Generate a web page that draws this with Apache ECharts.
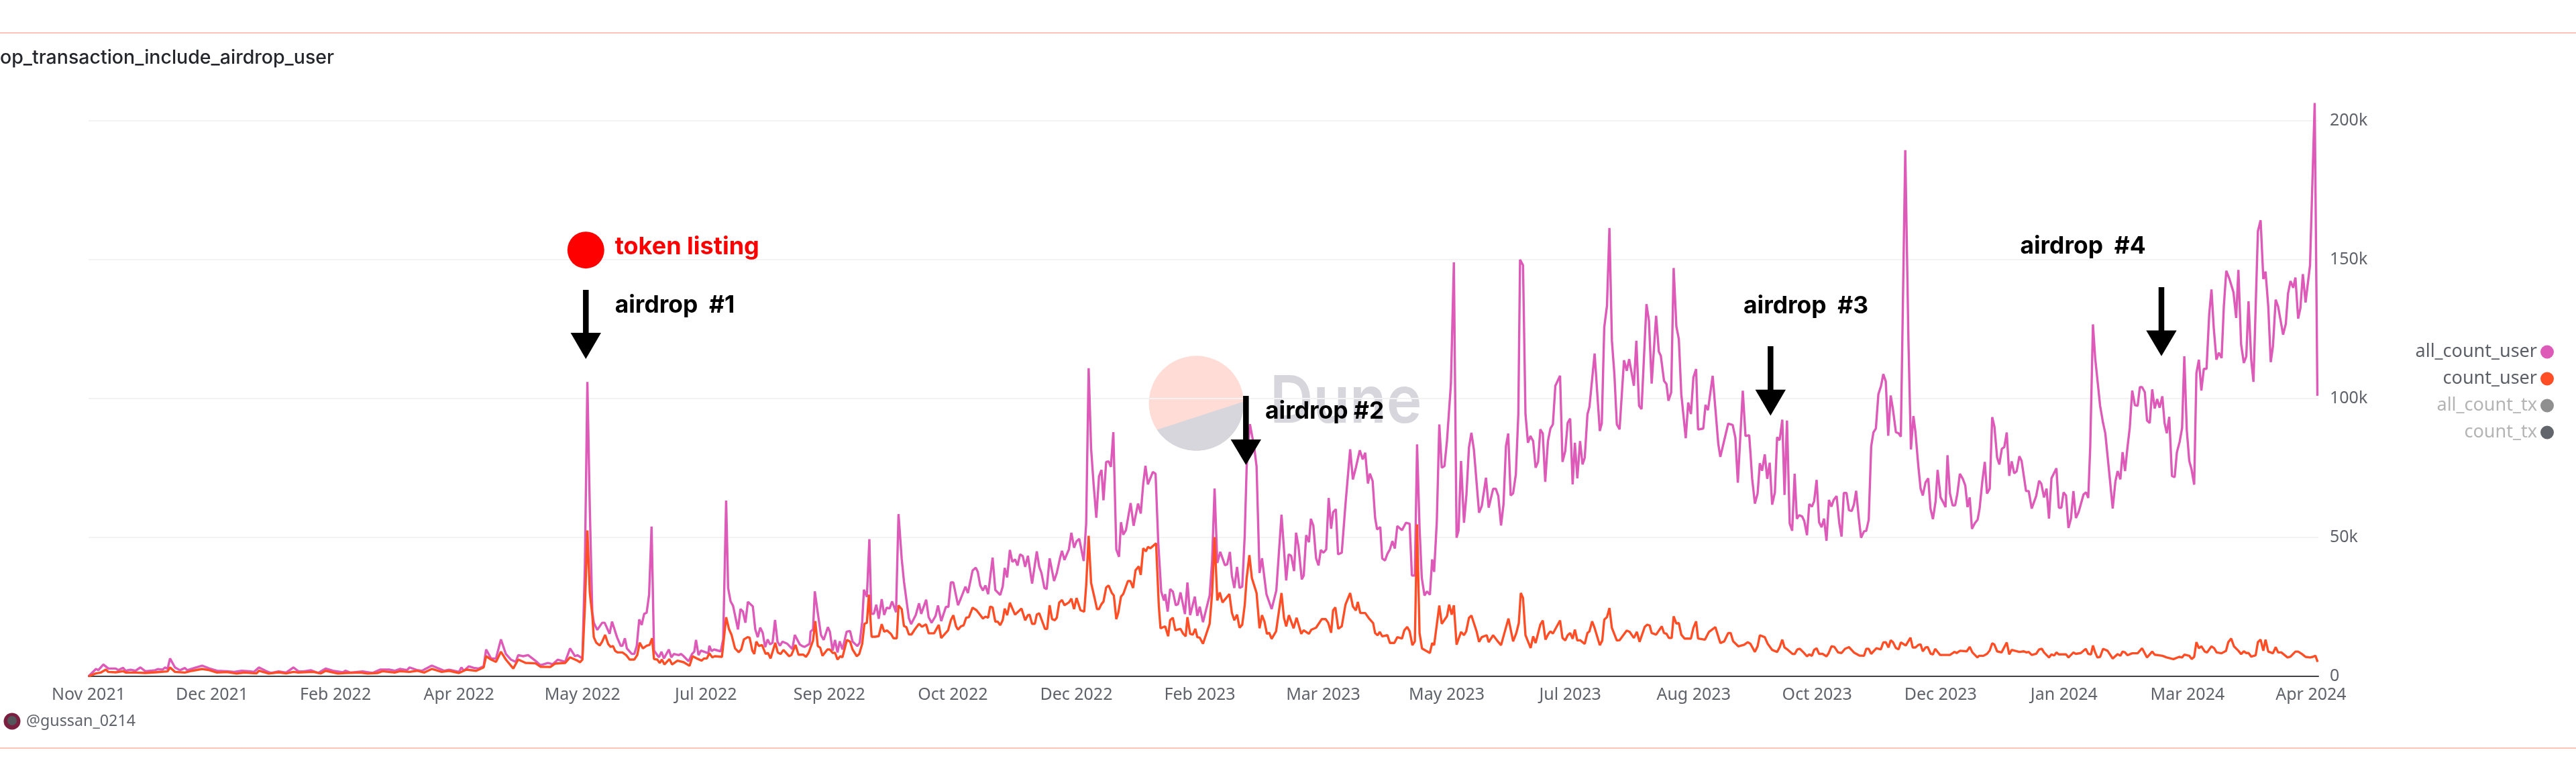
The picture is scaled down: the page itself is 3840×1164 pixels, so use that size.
<!DOCTYPE html>
<html>
<head>
<meta charset="utf-8">
<title>op_transaction_include_airdrop_user</title>
<script src="https://cdn.jsdelivr.net/npm/echarts@6/dist/echarts.min.js"></script>
<style>
html, body { margin: 0; padding: 0; background: #fff; }
#chart { width: 3840px; height: 1164px; }
</style>
</head>
<body>
<div id="chart"></div>
<script>
// x labels sit every 50 days from 2021-11-11, points are [day offset, users in thousands]
var tickLabels = ['Nov 2021', 'Dec 2021', 'Feb 2022', 'Apr 2022', 'May 2022', 'Jul 2022', 'Sep 2022', 'Oct 2022', 'Dec 2022', 'Feb 2023',
    'Mar 2023', 'May 2023', 'Jul 2023', 'Aug 2023', 'Oct 2023', 'Dec 2023', 'Jan 2024', 'Mar 2024', 'Apr 2024'];
var legendNames = ['all_count_user', 'count_user', 'all_count_tx', 'count_tx'];

var allCountUser = [
    [0,0],[3,2.66],[4,2.25],[6,4.27],[8,2.82],[11,2.82],[12,2.25],[14,3.06],[15,2],[17,2.4],[19,2],[21,3.2],[23,1.85],[27,2.2],[28,2.6],[30,2.4],[31,3.2],[32,2.66],[33,6.44],[35,3.2],[37,2.2],[39,3],[40,2.2],[43,3.06],[46,3.86],[49,2.8],[52,2],[56,1.85],[59,1.6],[62,2],[65,1.85],[67,1.6],[69,3.2],[72,1.85],[74,1.2],[77,1.77],[80,1.37],[83,3.2],[85,1.77],[87,1.77],[90,2.2],[93,1.2],[96,2.8],[99,2],[103,1.45],[104,2],[106,1.37],[111,1.77],[115,1.2],[118,2.4],[122,2.4],[124,2],[126,2.66],[129,2.25],[130,3.2],[133,2.25],[135,2],[139,3.86],[143,2.4],[144,2],[146,2.4],[148,2],[150,1.6],[151,3.2],[152,2],[154,3.6],[156,3.06],[158,2.8],[160,3.6],[161,9.66],[163,6.44],[165,6.44],[167,13.3],[169,8.05],[171,6.04],[173,5.2],[174,7.65],[176,7.25],[178,7.65],[181,5.6],[183,4],[186,4.8],[188,4.4],[190,6],[193,5.2],[195,10.06],[197,7.25],
    [198,7.6],[200,6.44],[201,40],[202,106],[203,60],[204,23],[204.6,19.3],[206,16.7],[208,19.3],[209,19.3],[211,15.3],[212,19.7],[214,14.1],[215.5,11],[216.2,11],[217.2,13.7],[218,10.06],[220,8.05],[221,8.05],[222,10.9],[223,20.5],[224,18.5],[225,22.5],[226,22.9],[227,29.4],[228,53.9],[229,9.26],[231,6.84],[232,8.86],[233,6.44],[235,9.66],[236,6.84],[237,8.05],[239,7.65],[240,8.05],[241,7.25],[243,5.4],[244.4,8.05],[245.3,8.86],[246,13.1],[247,7.65],[248,9.26],[251,8.3],[251.4,11],[252.3,9.1],[253.3,9.66],[256,9],[257,13.3],[258.2,63.3],[259,31.8],[260,27],[261,25.4],[263,16.9],[264,24.2],[265,23.3],[266,19.3],[267,26.8],[269,25.2],[270,16.9],[271,14.1],[272,17.5],[273,15.7],[274,10.5],[275,13.3],[276,11.5],[277,12.1],[278,20.3],[279,12.5],[280,11],[281,12.5],[283,11.7],[285,9.8],[286,14.9],[288,11.5],[289,10.9],[290,10.6],[292,11.7],[292.4,16.1],[293.4,16.9],[294.1,30.6],[295.3,22.9],[296.6,14.9],[297.7,13.1],[298.2,12.9],[299.4,17.7],[300.2,16.1],[301.3,9.26],[302.3,13.1],[303.3,8.6],[304.2,12.6],[305.3,9.66],[307,16.1],[308.4,16.3],[309.4,12.5],[311.3,10.9],[312.3,12.1],[313.3,19.7],[314,31.2],[315.2,28.6],[316.2,49.4],[317,22.5],[318,22.5],[319,25.8],[320,20.7],[321.2,27.8],[322.2,22.1],[323.2,24.7],[324.4,24.4],[325.4,27],[327,23.1],[328,58.4],[329.3,42.3],[330.2,34.2],[332.2,20.9],[333.1,18.8],[335,22.1],[336.3,26.3],[337.2,22.5],[339.2,27.6],[340.2,21.3],[341.4,19.3],[343,21.7],[344,25.5],[345.3,19.9],[347.2,25],[348.2,25],
    [349.2,33.8],[350.2,33.8],[352.1,25.6],[353.3,28.2],[355.1,32.3],[356.1,30],[358,38.1],[359.3,39.1],[360.1,37.6],[361.1,32.7],[362.2,30.9],[363.2,32.7],[364.3,29.6],[366.1,42.7],[367.2,31.1],[369.2,29.3],[370.2,32.3],[371,39],[372,35.6],[373.1,45.5],[374.1,41.2],[375.2,42.1],[376.2,39.9],[377.2,43.9],[378.3,43.3],[379.3,39.4],[380.4,43.4],[382.1,33.4],[384,45],[385,39.4],[385.9,37.2],[387.1,31.8],[388,31.4],[389.2,42.5],[391,34.3],[392.1,37.2],[393.4,42.5],[394.2,45.2],[395.2,41.9],[397,45.7],[398,51.7],[399.1,46.3],[400.1,48.6],[401.2,49.5],[403,41.5],[404,55],[405,110.9],[406,81.9],[407,69.3],[408.1,57.1],[409.2,72],[410.2,74.3],[411,63.4],[412.1,77.2],[413.1,77.4],[414,75.4],[415,87.9],[416.2,45.7],[417.3,43],[418.1,55.5],[419,51],[420.1,52.6],[422,62.4],[423.2,54.2],[425,62.2],[426.1,58.6],[427.1,69.3],[428,75.8],[429,69.1],[431,73.6],[432.1,72.9],[433.2,47.9],[434.4,30.5],[435.5,27.3],[436,29.6],[437,23.3],[438,31.4],[439.1,30.5],[440.3,25.6],[441.2,26],[442.2,30.2],[444,22.4],[445,33.8],[446.1,22],[448,28.7],[449,21.8],[450,25.1],[451.3,19.5],[454,29.1],[455,41.6],[456,67.6],[457.1,40.8],[458.3,44.8],[460.2,40],[461.1,40.3],[462.2,44.8],[463,36.3],[464,31.8],[465.1,39.4],[466.1,31.8],[467.2,32.3],[468.2,50.6],[469,75.6],[470.3,90.8],[472,82.8],[473,75.6],[474.2,37.2],[475.2,42.5],[477,29.6],[479.1,24.2],[481,30.9],[483.1,58.2],[485,34.5],[486,43.9],[487,43.4],[488.2,37.9],[489,51.7],[490,46.6],[491.3,34.9],[492.1,36.3],[493.1,50.8],[494.2,48.3],[495,56.7],[496,54.2],[497.1,42.5],[498.1,39.9],[499,45.5],[500.1,44.5],[501.2,45.7],[502.2,64.2],[503.2,53.1],[504,59.1],[505.1,60.2],[506,43.9],[507.5,44.5],
    [509,61.9],[510.9,81.7],[512,70.9],[513.2,75.1],[514.8,81.4],[516,78.1],[517,80.5],[518.1,69.4],[518.9,73],[520,70.3],[521,57.1],[521.8,52.9],[523.1,53.7],[523.9,42.4],[525,41.7],[526,44.1],[527,45.7],[528,48.7],[529,46],[530,54.1],[531.9,52.6],[533.5,55.3],[535,54.9],[535.9,36.3],[537.1,36.3],[538,83.5],[539,53.5],[539.9,35.5],[541,29.1],[542,30.6],[543.2,29.4],[544.1,42.1],[544.9,37.6],[546,55.9],[547,90.7],[548,75.1],[549.1,75.7],[550.1,84.7],[551.7,105.2],[552.9,149],[554,49.9],[554.8,52.5],[555.8,77.5],[557,55.3],[558,65.5],[559,82.3],[560,87.7],[561,81.7],[563.1,58.9],[564.2,61.3],[565.9,71.5],[567,60.7],[568.8,67.5],[569.9,67.5],[570.9,64.9],[572,54.3],[573,61.9],[574,82.9],[574.9,87.4],[575.9,65.1],[576.9,65.9],[578,72.7],[579,94.4],[579.7,150],[580.9,148],[581.9,94.4],[582.9,84.1],[583.9,86.5],[585,84.7],[586,75.1],[587,77.2],[587.9,88.9],[588.9,87.4],[589.9,70],[591,84.7],[592,89.2],[593,90.7],[594,104.6],[595.9,108.2],[596.9,77.2],[598,81.1],[599,91.3],[600,92.8],[601,69.1],[601.9,84.1],[602.9,71.3],[604,84.7],[605,76.3],[605.9,78.7],[607,94.4],[607.8,97],[609.9,116.2],[612,88.3],[612.8,91.1],[613.8,125.6],[614.9,133.4],[615.9,161.4],[616.9,120.8],[617.9,108.8],[618.9,90.7],[620,88.9],[621.8,113.8],[622.9,110],[623.9,114.2],[625.8,104.6],[626.8,120.8],[627.9,97.4],[628.9,96.2],[630.9,134],[631.9,128],[633,105.4],[634.8,129.8],[635.9,116.9],[636.7,115.4],[638,106.4],[639,105.2],[639.8,99.2],[640.9,102.2],[641.9,147],[643,126],[644,121.4],[645,101.6],[646.8,85.7],[647.8,98.6],[648.9,94.4],[649.9,107.6],[651,110.6],[651.8,88.9],[653.9,89.2],[654.8,97.7],[655.8,95.8],[657.7,108.2],[660,83.5],[660.8,79],[664,91],[665.8,90.5],[666.9,85.9],[667.9,69.7],[669.9,102.8],
    [671,86.5],[672.5,86.8],[673,80.5],[673.7,71.1],[674.8,62.2],[675.9,65.8],[676.8,76.7],[677.7,74],[678.8,79.9],[679.8,71.1],[680.8,76.9],[681.8,61.8],[682.9,66.2],[683.8,86.1],[684.8,85],[685.9,92.4],[686.8,65.3],[687.8,92.1],[688.9,55],[689.9,52.4],[690.9,72.9],[691.8,56.7],[692.7,58],[693.9,57.6],[694.8,55.9],[695.9,50.8],[696.8,62],[697.9,61.1],[698.8,63.1],[699.8,70.7],[700.8,55.5],[701.8,53.7],[702.8,56.8],[703.8,48.8],[704.8,63.5],[705.8,61.1],[706.7,63.5],[707.9,64.9],[709,55],[709.9,50.3],[710.8,66],[711.9,66],[712.9,59.8],[714,59.5],[714.9,61.8],[715.8,66.8],[716.9,56.8],[717.8,49.9],[719,52.2],[719.9,52.4],[720.9,56.4],[721.9,82.8],[722.8,87.8],[723.8,89.2],[724.8,101.5],[725.9,104.6],[726.8,108.8],[727.8,106.2],[728.8,86.6],[729.8,101.1],[730.7,96.2],[731.9,87.9],[733,87.5],[733.9,86.3],[735.7,189.4],[737,120],[738,81.7],[739,93.7],[739.8,88.1],[741,75.6],[741.9,67.6],[742.8,65.1],[743.9,69.8],[745,71.3],[745.9,60.4],[746.9,56.6],[748,63.1],[748.8,74.3],[750,64.4],[751.1,62.6],[752,60.9],[752.8,79.6],[753.8,65.8],[754.9,61.5],[755.9,61.6],[756.8,65.8],[757.8,72.9],[759,71.1],[760,68.7],[760.9,60.9],[761.8,64.4],[762.7,53.1],[763.8,55],[765,56.4],[765.8,60.4],[766.9,70.2],[767.9,77.2],[768.8,65.8],[769.9,67.6],[770.9,93.3],[771.8,89.9],[772.9,78.7],[773.8,76.3],[774.8,81.9],[775.8,82.5],[776.8,87.8],[777.8,72.2],[778.8,77.4],[779.8,73.1],[780.8,73.8],[781.9,79.2],[782.8,77.6],[784.6,66.7],[785.7,66.7],[786.9,60.4],[788.7,64.9],[789.9,70.4],[790.8,69.3],[791.9,64.4],[792.9,67.6],[793.9,56.8],[794.9,71.3],[796.9,74.9],[797.9,60.7],[798.9,60.7],[799.8,66.2],[800.8,65.1],[801.8,53.4],[802.8,56.8],[803.8,66.7],[804.8,57],[805.9,59.1],[807.9,65.5],[808.9,66.2],[809.8,64.2],[810.6,82.6],
    [811.7,126.7],[812.6,114.6],[814.6,97.4],[815.8,91.2],[816.7,87.5],[818.5,71.5],[819.7,60.4],[820.8,70.2],[821.7,73.9],[822.8,70.9],[823.7,80.7],[824.7,73.9],[825.7,82.6],[826.6,89.4],[827.6,102.9],[828.7,97.6],[829.8,97.4],[830.7,104.1],[831.6,104.1],[832.7,102.3],[833.6,92.1],[834.7,91.2],[835.7,103.3],[836.7,96.4],[837.7,99.8],[838.7,96.7],[839.8,100.8],[840.7,91.2],[841.6,87.5],[842.6,93.4],[843.7,72.1],[844.8,71.7],[845.7,80.7],[846.8,84.4],[847.8,89.4],[848.7,115.2],[849.7,88.7],[850.7,77.6],[851.6,74.6],[852.7,69],[853.6,109.1],[854.6,114],[855.6,102.9],[856.6,110.7],[857.7,110.7],[858.8,130.6],[859.7,139.3],[860.6,125.7],[861.7,114],[862.7,116.5],[863.8,114.6],[864.7,133.1],[865.7,146],[867,143],[868.6,138.3],[869.7,129],[870.6,146.3],[871.7,119.5],[872.8,112.8],[873.8,115.2],[874.7,135],[875.8,114],[876.7,106],[878.5,160.2],[879.6,164.2],[880.7,143],[881.6,145.7],[882.7,133.1],[883.7,113.1],[884.6,118.9],[885.7,135.6],[886.7,133.1],[888.7,123],[889.8,126.9],[890.7,137.8],[891.7,142.3],[892.8,139.9],[893.7,143.6],[894.8,128.8],[895.7,132.5],[896.7,144.8],[897.8,134.6],[899.6,147.9],[901.5,206.4],[902.6,101]
];

var countUser = [
    [0,0],[3,1.05],[5,1.37],[7,2.4],[8,1.6],[11,1.45],[14,1.85],[15,1.37],[19,1.37],[23,1.2],[27,1.45],[32,1.77],[33,3.2],[35,1.6],[39,1.37],[42,2],[46,2.66],[49,2.2],[52,1.37],[56,1.53],[60,1],[63,1.37],[68,1.05],[69,2],[73,1],[77,1.45],[80,1.05],[83,1.6],[85,1.37],[91,1.6],[94,1.05],[96,2],[101,1],[104,1.2],[110,1.37],[113,1],[117,1.2],[119,1.85],[124,1.37],[126,1.85],[130,1.6],[133,2],[136,1.37],[139,2.66],[143,1.6],[146,2],[150,1.2],[153,2.4],[157,2],[160,3.2],[161,7.25],[163,6.04],[165,5.2],[167,8.86],[169,6.04],[172,2.8],[174,6.04],[177,4.83],[181,4.67],[183,3.46],[187,3.38],[189,4.6],[193,4.83],[195,6.84],[197,6.04],
    [198,5.64],[199,5.07],[200,6.04],[201,25],[202,52.5],[203,30],[204,22.1],[204.6,14.1],[205.6,12.1],[207,11.1],[208,12.5],[209.2,14.9],[210.4,11.7],[211.4,10.6],[212.4,10.9],[213.3,9.1],[214.3,8.6],[216.2,8.6],[217.7,7.65],[219.1,6.04],[221,6.04],[222.2,7.65],[223.2,12.1],[224.5,10.06],[226,11],[227.2,11.3],[228.2,13.7],[229,6.2],[230.3,6.04],[231.3,4.83],[232.2,6.04],[233.2,4.27],[235.2,6.2],[236.3,4.27],[238.5,5.64],[241,5.07],[243.4,3.78],[244.6,7.25],[246.3,6.44],[248.3,5.64],[249.2,6.44],[250.4,6.44],[251.4,8.3],[252.6,6.84],[253.6,7.25],[256.5,7],[258.2,21.3],[259.4,16.9],[260.4,14.9],[261.8,10.06],[263.3,8.7],[264.3,9.66],[265.4,13.3],[266.9,14.1],[267.7,13.9],[268.8,9.26],[269.6,8.05],[270.4,12.5],[271.5,10.9],[272.7,11.3],[274.2,8.05],[275.1,8.45],[276.2,6.44],[278.1,12.1],[279.1,8.6],[280.3,8.05],[281.4,9.5],[283.7,7.25],[284.6,7.65],[286.3,11.3],[287.5,7.8],[289.5,7.8],[290.5,7],[291.6,8.45],[293.4,12.9],[294.3,19.9],[295.3,10.9],[296.3,10.3],[297.2,7.4],[299.2,9.66],[300.2,9.66],[301.3,8.45],[302.3,8.45],[303.3,6.04],[304.5,7.25],[305.3,6.84],[307.1,13.1],[308.4,12.5],[309.4,9.66],[311.1,7.25],[312.1,8.05],[313.3,11.7],[314.2,18.9],[315.2,19.3],[316,29.4],[317.1,14.25],[318.6,14.25],[320,14.5],[321.2,18.8],[322.2,16.1],[323.4,16.5],[324.9,15.3],[326,13.7],[327.3,13.7],[328,25.5],[329.3,24.2],[330.2,18.1],[331.2,17.7],[332.2,15.1],[333.3,15.1],[334.6,16.9],[336.3,18.9],[337.5,17.9],[339.2,18.7],[340.2,15.5],[342.4,15.5],[344.3,18.5],[345.3,13.8],[348.1,16.6],
    [349.2,20.2],[350.2,22],[351.3,18],[352.1,16.8],[353.3,18],[354.4,18.4],[355.4,21.1],[356.5,21.3],[358,24.7],[359.6,23.8],[362.2,20.8],[363.2,21.5],[364.3,21.1],[365.1,25.1],[366.1,24.8],[367.2,19.7],[368.2,19.7],[369.2,18.4],[370.2,20.2],[371,24.4],[372,22],[373.1,26.5],[375.2,22.2],[377.8,24.4],[379.3,20.2],[380.4,22],[381.1,22.2],[382.1,18.9],[383.2,18.9],[384,22.2],[385,22.7],[387.3,17.1],[388.2,17.1],[389.2,25.6],[390.2,20.6],[391.3,20.2],[392.1,21.1],[393.1,26.6],[394.2,27.5],[395.2,25.6],[397,26.6],[398,28],[399.1,24.2],[400.1,28.2],[401.7,23.8],[403.2,23.3],[404,32.7],[405,50.6],[406,33.6],[407.4,28.2],[408.4,24.2],[409.2,24.2],[410.2,26],[411,26.9],[412.1,32],[413.1,32.7],[414.4,30],[415.2,29.1],[416.2,20.6],[417,22.9],[418.1,28.7],[419,29.6],[420.9,34.3],[421.9,34.3],[423,31.8],[424,38.2],[425.3,39.6],[426.1,36.5],[427.1,46.1],[428.2,45],[429,46.6],[430,46.1],[432.3,47.9],[433.4,25.6],[434.1,17.3],[436,18],[437.2,14.4],[438,20.2],[439.1,21.1],[440.1,16.6],[442.2,17.1],[443.3,15.3],[444.3,14.4],[445,21.3],[446.1,15.3],[447.2,15],[448.2,17.1],[449,14.1],[450,13.9],[451.3,11.7],[454,18.9],[455,30],[456,50.1],[457.1,27.3],[458.1,30.2],[459.2,26.6],[462,29.6],[463,22.9],[464,20.2],[465.1,22.2],[466.1,17.5],[467.2,18.6],[468.2,25.6],[469,35.4],[470.1,43.6],[471.1,35.4],[473,30],[474.2,17.3],[475.2,22],[476.2,19.7],[477.2,15.3],[478.1,15.7],[479.1,13.5],[480.9,16.2],[483.1,30],[484.1,21.1],[485,18],[486.1,22],[488,17.3],[489.2,21.1],[491.1,15.3],[492.1,16.6],[494.2,15.3],[495.2,16.8],[497.1,17.5],[499.4,20.6],[501,20.6],[502,19.3],[503.2,15.7],[504,23.8],[504.9,24.8],[506.1,17.1],[507.5,18],
    [509,25.8],[510.9,30],[512,25.2],[513.2,23.7],[514,26.8],[515,22.8],[517,22.8],[518.4,21],[520.2,19.2],[521,15.6],[522,14.8],[522.9,16],[523.9,14.4],[526,14.8],[527,12],[528.8,12],[530,14.1],[531.9,13.6],[532.8,16.5],[534,17.8],[535,16.2],[536.1,11.2],[537.1,12.6],[538,54.7],[539,15.6],[540,10],[543.2,8.4],[544.1,12],[544.9,11.2],[547,25.5],[548,18.9],[550.1,21.6],[551,25.8],[552,22.2],[552.9,25.6],[554,11.4],[555.8,16],[557,14.8],[557.9,16.2],[559,21],[560,21.9],[562.1,16.2],[563.1,12.4],[564.2,14.1],[566.2,14.8],[567,12.3],[568.8,14.8],[570.4,12.9],[572,11.2],[575,20.8],[576.9,12.6],[578.2,15.6],[579.2,19.2],[580,30],[580.9,28.2],[581.9,14.8],[584,10.2],[585,14.4],[586,12],[587.9,18.6],[588.9,20.1],[590,13.2],[591.2,15.3],[592,16.2],[593,15.4],[595.9,20.1],[596.9,13.8],[598,12.9],[599,14.8],[600,15.6],[601,13.5],[601.9,16.8],[602.9,12.9],[604,13],[605.9,11.7],[607,15.6],[607.8,16.2],[608.9,19.8],[609.9,17.4],[612,11.2],[613,12.9],[613.8,20.4],[614.9,21.3],[615.9,24.6],[616.9,17.4],[618.9,12.9],[620,13],[622.9,16.5],[624.1,16],[625.8,13.8],[627,16],[628.1,12.4],[630.2,17.8],[631.2,18.6],[632.2,18.3],[633,15.6],[634.8,15],[636.4,17.1],[637.1,18],[638,15.6],[639,15.3],[640,13.8],[641.1,13.8],[641.9,21.6],[643,19],[644,19.2],[645,15],[646.3,13.6],[648.9,13.6],[649.9,17.4],[651,19.8],[651.8,13.6],[654.6,13.2],[656.2,16],[658.8,17.7],[660.8,12],[662.4,12.6],[664,15.6],[665,15.6],[666,12.6],[668.1,10.8],[670.5,11.4],
    [671.9,12.3],[673,11.7],[674.8,8.8],[675.9,10.8],[676.8,14.8],[678.8,14.1],[680,11.7],[681.8,9.5],[683.8,8.8],[684.8,10.4],[685.9,13.2],[686.8,10.4],[688.2,9.5],[690,8.1],[690.9,8],[692,9.7],[693,9.9],[694.5,8.6],[695.9,7.2],[696.8,7.9],[697.9,7.4],[698.8,9.5],[699.8,10.1],[700.8,8.1],[702.2,8.1],[703.8,7.2],[704.7,8.4],[705.8,10.8],[707,10.6],[708.5,8.6],[709.9,8.4],[711.3,9.9],[712.9,10.5],[714.9,8.6],[717.1,7.5],[719,7.4],[719.9,9.9],[720.9,9.9],[721.9,8.1],[724,10.1],[725.8,9.7],[726.8,12.2],[727.8,12.3],[728.9,10.4],[729.8,13],[730.7,12.3],[731.9,10.2],[733,9.7],[733.9,12.2],[735.9,11.1],[737.8,13.9],[738.7,10.4],[739.8,10.4],[741,11.3],[741.9,11.5],[742.8,9],[743.9,10.4],[744.8,10.5],[746,8.1],[746.9,7.9],[747.8,9.9],[749.8,7.7],[752,7.7],[753.8,7.7],[755.6,8.8],[756.5,8.4],[757.9,9.2],[760.6,9],[761.8,10.6],[762.9,8.6],[764.9,6.8],[765.6,7.4],[767.4,7.4],[768.8,8.1],[769.9,9.3],[770.9,11.9],[771.8,11.4],[772.9,9],[774.7,8.6],[776.8,12.2],[777.8,7.9],[778.8,9.5],[781.9,8.8],[783.7,9],[784.8,8.6],[785.7,8.8],[786.9,7.7],[788.7,8.1],[789.9,9.7],[791,9.9],[791.9,8.6],[793.9,6.8],[794.9,7.9],[796,7.5],[796.9,8.6],[797.9,7.9],[800.8,7.9],[801.8,6.8],[803.8,8.6],[804.8,8.1],[806.8,8.4],[808.8,9.9],[809.8,8.1],[810.9,7.9],
    [811.7,11.1],[812.6,8.6],[813.5,6.8],[814.6,7],[815.8,9.9],[817.6,9.2],[819.7,6.4],[821.7,8],[822.8,7.4],[823.7,8.9],[824.7,8.6],[825.7,7.6],[827.6,8.3],[829.8,8.3],[831.6,10.1],[833.6,6.8],[835.7,8.9],[836.7,7.8],[839.8,7.4],[841.6,6.8],[844.3,6.2],[846.6,7],[847.8,6.8],[848.7,7.8],[850.7,7.4],[851.7,6.2],[852.7,7],[853.6,12.3],[854.6,10.1],[855.6,10.8],[857,8.9],[857.9,8.6],[859.7,10.8],[860.8,10.1],[861.8,8.6],[863.8,8.3],[865.6,9.2],[866.5,12.3],[867.7,13.6],[868.8,10.8],[870.6,9.2],[871.7,8],[872.8,9],[873.8,8.4],[874.7,8.4],[875.8,7.1],[877.6,7.6],[878.5,12.3],[879.6,13.2],[880.7,9.2],[881.6,13.2],[882.7,8.9],[884.6,8.3],[885.7,10.5],[886.7,8.6],[888,8.6],[890.5,6.8],[891.7,7.1],[893.7,8.9],[894.8,8.9],[896.4,8],[897.8,7],[899.6,6.8],[900.7,7],[901.8,7.4],[902.7,5.2]
];

var colors = { allUser: '#dd5ab8', user: '#ff4d26', allTx: '#8f8f8f', tx: '#62656c' };
var sansFont = '"Noto Sans", sans-serif';
var noteFont = 'Inter, sans-serif';
var tickColor = '#5f6269';

function arrow(x, top, headTop, tip) {
    return [
        { type: 'rect', z: 100, shape: { x: x - 4.25, y: top, width: 8.5, height: headTop - top + 1 }, style: { fill: '#000' } },
        { type: 'polygon', z: 100, shape: { points: [[x - 22.7, headTop], [x + 22.7, headTop], [x, tip]] }, style: { fill: '#000' } }
    ];
}

function note(x, y, text, size, fill) {
    return { type: 'text', z: 100, x: x, y: y, style: { text: text, fill: fill || '#000', font: '700 ' + size + 'px ' + noteFont, align: 'left', verticalAlign: 'middle' } };
}

// gray lower part of the Dune logo circle
function logoSegment(cx, cy, r, from, to) {
    var pts = [];
    for (var a = from; a <= to; a += 2) {
        pts.push([cx + r * Math.cos(a * Math.PI / 180), cy + r * Math.sin(a * Math.PI / 180)]);
    }
    return pts;
}

var graphics = [
    { type: 'rect', z: 1, shape: { x: 0, y: 48, width: 3840, height: 2 }, style: { fill: '#ffc4b6' } },
    { type: 'rect', z: 1, shape: { x: 0, y: 1114, width: 3840, height: 2 }, style: { fill: '#ffc4b6' } },
    { type: 'circle', z: -1, shape: { cx: 1783.3, cy: 601, r: 70.7 }, style: { fill: '#ffdcd5' } },
    { type: 'polygon', z: -1, shape: { points: logoSegment(1783.3, 601, 70.7, -2, 146) }, style: { fill: '#d6d6dc' } },
    { type: 'text', z: -1, x: 1893, y: 601, scaleX: 0.92, style: { text: 'Dune', fill: '#d6d6dc', font: '600 97px ' + noteFont, align: 'left', verticalAlign: 'middle' } },
    { type: 'text', z: 5, x: 0, y: 86, style: { text: 'op_transaction_include_airdrop_user', fill: '#24262b', font: '500 28.5px ' + noteFont, align: 'left', verticalAlign: 'middle' } },
    { type: 'circle', z: 5, shape: { cx: 18, cy: 1075, r: 12.5 }, style: { fill: '#7a1f3f' } },
    { type: 'circle', z: 5, shape: { cx: 18, cy: 1074, r: 7 }, style: { fill: '#55565b' } },
    { type: 'text', z: 5, x: 39, y: 1075, style: { text: '@gussan_0214', fill: tickColor, font: '400 23.3px ' + sansFont, align: 'left', verticalAlign: 'middle' } },
    { type: 'circle', z: 100, shape: { cx: 873.3, cy: 372.7, r: 27.5 }, style: { fill: '#ff0000' } },
    note(916.7, 368, 'token listing', 36, '#ff0000'),
    note(916.7, 455, 'airdrop  #1', 35.4),
    note(1886, 613, 'airdrop #2', 35.4),
    note(2599, 456.6, 'airdrop  #3', 35.4),
    note(3011.4, 367.5, 'airdrop  #4', 35.4)
].concat(arrow(873.3, 432, 496, 535), arrow(1857.3, 590, 655, 693), arrow(2639.3, 516, 580.7, 619.5), arrow(3222, 428, 492.4, 530.7));

var chart = echarts.init(document.getElementById('chart'), null, { renderer: 'canvas' });
chart.setOption({
    animation: false,
    backgroundColor: '#fff',
    grid: { left: 132, right: 384, top: 180, bottom: 156, containLabel: false },
    graphic: { elements: graphics },
    legend: {
        orient: 'vertical',
        right: 28,
        top: 506,
        align: 'right',
        icon: 'circle',
        itemWidth: 20,
        itemHeight: 20,
        itemGap: 13,
        selectedMode: false,
        textStyle: { fontFamily: 'Noto Sans', fontSize: 27, color: '#5c5f66' },
        data: [
            { name: legendNames[0] },
            { name: legendNames[1] },
            { name: legendNames[2], textStyle: { color: '#b4b4b6' } },
            { name: legendNames[3], textStyle: { color: '#b4b4b6' } }
        ]
    },
    xAxis: {
        type: 'value',
        min: 0,
        max: 903,
        interval: 50,
        axisLine: { lineStyle: { color: '#3f4146', width: 2 } },
        axisTick: { show: false },
        splitLine: { show: false },
        axisLabel: {
            margin: 15,
            fontFamily: 'Noto Sans',
            fontSize: 25,
            color: tickColor,
            formatter: function (v) { return tickLabels[v / 50] || ''; }
        }
    },
    yAxis: {
        type: 'value',
        position: 'right',
        min: 0,
        max: 200,
        interval: 50,
        axisLine: { show: false },
        axisTick: { show: false },
        splitLine: { lineStyle: { color: '#f3f3f3', width: 2 } },
        axisLabel: {
            margin: 17,
            fontFamily: 'Noto Sans',
            fontSize: 25,
            color: tickColor,
            padding: [0, 0, 8, 0],
            formatter: function (v) { return v === 0 ? '0' : v + 'k'; }
        }
    },
    series: [
        { name: legendNames[0], type: 'line', data: allCountUser, color: colors.allUser, showSymbol: false, clip: false, lineStyle: { width: 3.4 }, z: 3 },
        { name: legendNames[1], type: 'line', data: countUser, color: colors.user, showSymbol: false, clip: false, lineStyle: { width: 3.4 }, z: 4 },
        { name: legendNames[2], type: 'line', data: [], color: colors.allTx, showSymbol: false },
        { name: legendNames[3], type: 'line', data: [], color: colors.tx, showSymbol: false }
    ]
});
</script>
</body>
</html>
